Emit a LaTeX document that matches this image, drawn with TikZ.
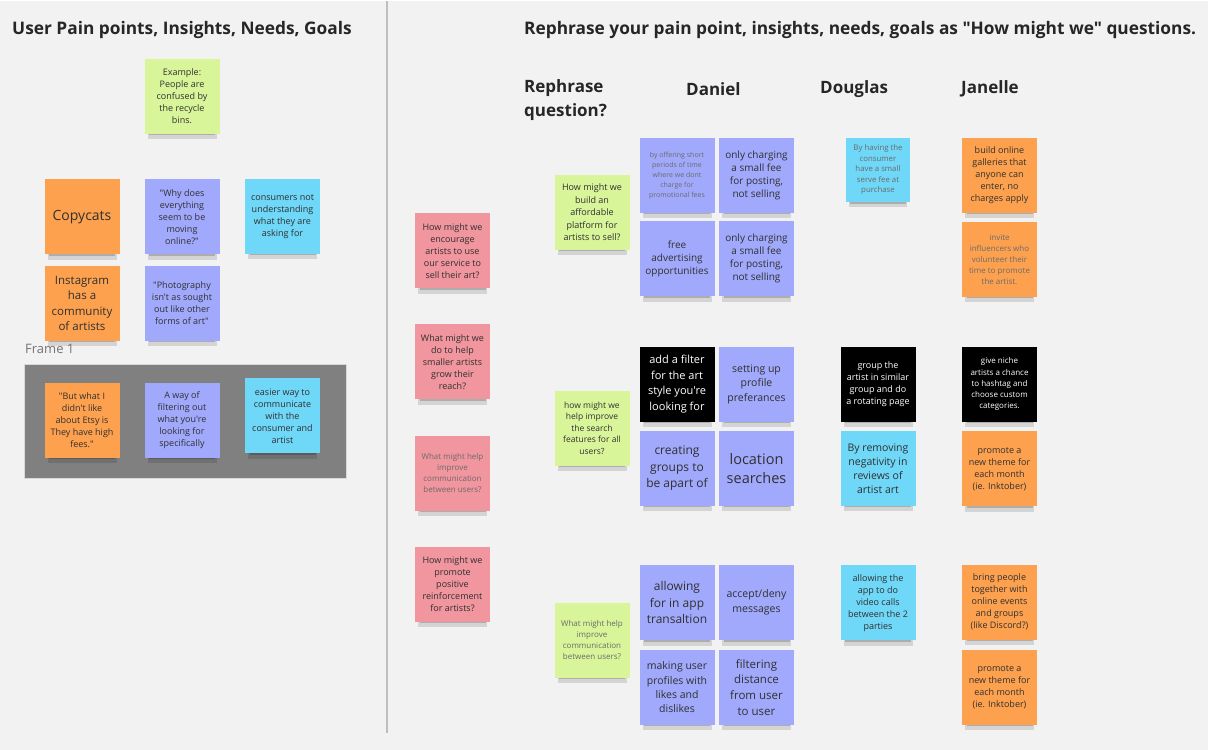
\documentclass[tikz,border=0pt]{standalone}
\usepackage{fontspec}
\setmainfont{Open Sans}[Ligatures=TeXOff]
\usetikzlibrary{shadows}
\definecolor{bgcol}{HTML}{F2F2F2}
\definecolor{pinknote}{HTML}{F1959E}
\definecolor{limenote}{HTML}{D9F59A}
\definecolor{orangenote}{HTML}{FDA14F}
\definecolor{violetnote}{HTML}{A1A9FC}
\definecolor{cyannote}{HTML}{6FD7F7}
\definecolor{notetext}{HTML}{303030}
\begin{document}
\begin{tikzpicture}[x=1pt,y=-1pt,
  sticky/.style={minimum width=75pt,minimum height=75pt,inner sep=0pt,align=center,
    text=notetext,general shadow={fill=black,opacity=0.12,shadow scale=0.92,shadow yshift=-9pt},
    general shadow={fill=black,opacity=0.18,shadow scale=0.88,shadow yshift=-7pt}},
  sz/.style 2 args={font=\fontsize{#1}{#2}\selectfont},
  faint/.style={text=black!58},
  pinkst/.style={sticky,fill=pinknote},
  limest/.style={sticky,fill=limenote},
  orangest/.style={sticky,fill=orangenote},
  violetst/.style={sticky,fill=violetnote},
  cyanst/.style={sticky,fill=cyannote},
  blackst/.style={sticky,fill=black,text=white},
  heading/.style={anchor=west,inner sep=0pt,text=black!85,font=\bfseries\fontsize{17}{24}\selectfont},
  title/.style={heading,font=\bfseries\fontsize{17.3}{24}\selectfont}]

  \fill[bgcol] (0,0) rectangle (1208,749);
  \draw[black!25,line width=1.5pt] (387,0) -- (387,732);

  % left board
  \node[title] (ltitle) at (12,29) {User Pain points, Insights, Needs, Goals};
  \node[limest,sz={9}{12}] (example) at (182,95.5) {Example:\\People are\\confused by\\the recycle\\bins.};
  \node[orangest,sz={14}{18}] (copycats) at (82,216) {Copycats};
  \node[violetst,sz={9}{12}] (online) at (182,216) {"Why does\\everything\\seem to be\\moving\\online?"};
  \node[cyanst,sz={9}{12}] (consumers) at (282.5,215.5) {consumers not\\understanding\\what they are\\asking for};
  \node[orangest,sz={11.5}{15.5}] (instagram) at (82,302.5) {Instagram\\has a\\community\\of artists};
  \node[violetst,sz={9}{12}] (photo) at (182,302.5) {"Photography\\isn't as sought\\out like other\\forms of art"};

  \node[anchor=west,inner sep=0pt,text=black!55,font=\fontsize{13}{16}\selectfont] (framelabel) at (25,348) {Frame 1};
  \draw[fill=black!50,draw=black!15] (24,363) rectangle (346,477);
  \node[orangest,sz={9}{12}] (etsy) at (82,419.5) {"But what I\\didn't like\\about Etsy is\\They have high\\fees."};
  \node[violetst,sz={9}{12}] (filtering) at (182,419.5) {A way of\\filtering out\\what you're\\looking for\\specifically};
  \node[cyanst,sz={9}{12}] (easier) at (282.5,415) {easier way to\\communicate\\with the\\consumer and\\artist};

  % right board
  \node[title] (rtitle) at (524,29) {Rephrase your pain point, insights, needs, goals as "How might we" questions.};
  \node[heading,align=left] (hrephrase) at (524,99.5) {Rephrase\\question?};
  \node[heading] (hdaniel) at (686,88) {Daniel};
  \node[heading] (hdouglas) at (820,88) {Douglas};
  \node[heading] (hjanelle) at (961,88) {Janelle};

  \node[pinkst,sz={9}{12}] (encourage) at (452.5,250) {How might we\\encourage\\artists to use\\our service to\\sell their art?};
  \node[pinkst,sz={9}{12}] (smaller) at (452.5,361) {What might we\\do to help\\smaller artists\\grow their\\reach?};
  \node[pinkst,faint,sz={8}{11}] (commpink) at (452.5,472.5) {What might help\\improve\\communication\\between users?};
  \node[pinkst,sz={9}{12}] (positive) at (452.5,583.5) {How might we\\promote\\positive\\reinforcement\\for artists?};

  \node[limest,sz={9}{12.5}] (affordable) at (592,211.5) {How might we\\build an\\affordable\\platform for\\artists to sell?};
  \node[limest,sz={8.5}{11.5}] (search) at (592,427.5) {how might we\\help improve\\the search\\features for all\\users?};
  \node[limest,faint,sz={8}{11}] (commlime) at (592,639.5) {What might help\\improve\\communication\\between users?};

  % Daniel
  \node[violetst,faint,sz={7}{10}] (offering) at (677,174.5) {by offering short\\periods of time\\where we dont\\charge for\\promotional fees};
  \node[violetst,sz={10}{13}] (feeA) at (756.5,174.5) {only charging\\a small fee\\for posting,\\not selling};
  \node[violetst,sz={10}{13}] (advert) at (677,258) {free\\advertising\\opportunities};
  \node[violetst,sz={10}{13}] (feeB) at (756.5,258) {only charging\\a small fee\\for posting,\\not selling};
  \node[blackst,sz={11}{15.5}] (artfilter) at (677,383.5) {add a filter\\for the art\\style you're\\looking for};
  \node[violetst,sz={10.5}{14.5}] (profile) at (756.5,383.5) {setting up\\profile\\preferances};
  \node[violetst,sz={12}{16.5}] (groups) at (677,467.5) {creating\\groups to\\be apart of};
  \node[violetst,sz={14.5}{19}] (location) at (756.5,467.5) {location\\searches};
  \node[violetst,sz={12}{16.5}] (translate) at (677,602) {allowing\\for in app\\transaltion};
  \node[violetst,sz={10.5}{15}] (accept) at (756.5,602) {accept/deny\\messages};
  \node[violetst,sz={10.5}{14.3}] (likes) at (677,686.5) {making user\\profiles with\\likes and\\dislikes};
  \node[violetst,sz={11.5}{15.7}] (distance) at (756.5,686.5) {filtering\\distance\\from user\\to user};

  % Douglas
  \node[cyanst,faint,minimum width=64pt,minimum height=64pt,sz={7.8}{10.6}] (servefee) at (878,169) {By having the\\consumer\\have a small\\serve fee at\\purchase};
  \node[blackst,sz={9}{12}] (rotating) at (878,383.5) {group the\\artist in similar\\group and do\\a rotating page};
  \node[cyanst,sz={10.5}{14}] (negativity) at (878,467.5) {By removing\\negativity in\\reviews of\\artist art};
  \node[cyanst,sz={9}{12}] (video) at (878,602) {allowing the\\app to do\\video calls\\between the 2\\parties};

  % Janelle
  \node[orangest,sz={9}{12}] (galleries) at (999.5,174.5) {build online\\galleries that\\anyone can\\enter, no\\charges apply};
  \node[orangest,faint,sz={8}{11}] (influencers) at (999.5,258.5) {invite\\influencers who\\volunteer their\\time to promote\\the artist.};
  \node[blackst,sz={8}{11.3}] (hashtag) at (999.5,383.5) {give niche\\artists a chance\\to hashtag and\\choose custom\\categories.};
  \node[orangest,sz={9}{12}] (themeA) at (999.5,468) {promote a\\new theme for\\each month\\(ie. Inktober)};
  \node[orangest,sz={9}{12}] (events) at (999.5,601.5) {bring people\\together with\\online events\\and groups\\(like Discord?)};
  \node[orangest,sz={9}{12}] (themeB) at (999.5,686.5) {promote a\\new theme for\\each month\\(ie. Inktober)};

\end{tikzpicture}
\end{document}
